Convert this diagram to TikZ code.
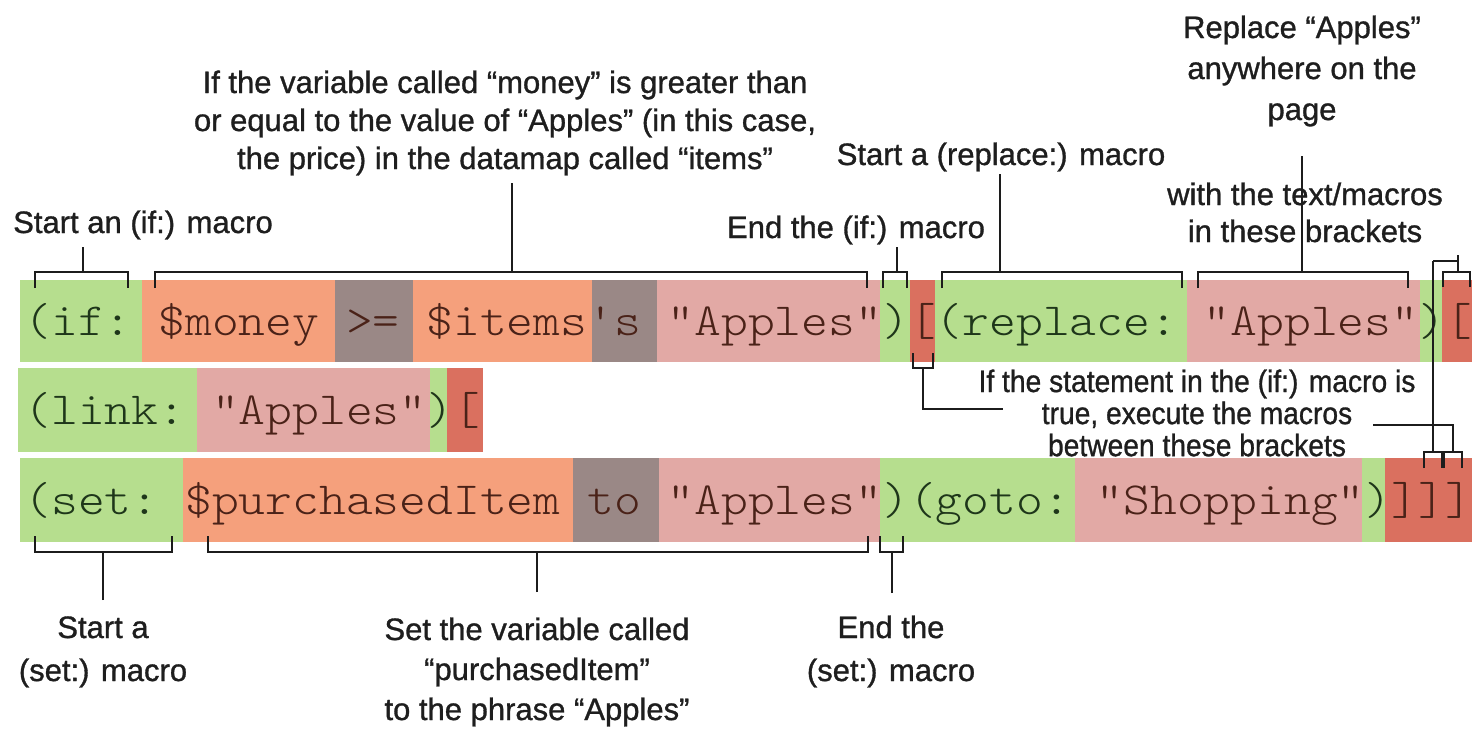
\documentclass[tikz,border=0pt]{standalone}
\usepackage{fontspec}
\usepackage{graphicx}
\usetikzlibrary{fit}
\newfontfamily\labfont{Liberation Sans}[FakeBold=1]
\definecolor{cgreen}{HTML}{B6DE8E}
\definecolor{corange}{HTML}{F5A07C}
\definecolor{cgray}{HTML}{9A8886}
\definecolor{cpink}{HTML}{E2A9A5}
\definecolor{cred}{HTML}{DA705F}
\definecolor{tgreen}{HTML}{1E361A}
\definecolor{tbrown}{HTML}{4A2218}
\definecolor{labcol}{HTML}{1E1E1E}
\definecolor{linecol}{HTML}{1C1C1C}
\newcommand\lbl[3]{\fontsize{15.5}{#2}\selectfont\scalebox{#1}[1]{\begin{tabular}[t]{@{}c@{}}#3\end{tabular}}}
\newcommand\codeline[1]{\scalebox{1.11}[1]{\ttfamily\fontseries{l}\fontsize{23}{23}\selectfont\frenchspacing #1}}
\newcommand\cG[1]{\textcolor{tgreen}{#1}}
\newcommand\cB[1]{\textcolor{tbrown}{#1}}
\tikzset{
  blk/.style={draw=none, inner sep=0pt, outer sep=0pt},
  codetxt/.style={inner sep=0pt, anchor=base west},
  lab/.style={inner sep=0pt, anchor=base, text=labcol, font=\labfont},
  conn/.style={draw=linecol, line width=1pt}
}
\newcommand\brk[5]{%
  \coordinate (#1l) at (#2,#4);
  \coordinate (#1r) at (#3,#4);
  \draw[conn] ([shift={(0,#5)}]#1l) -- (#1l) -- (#1r) -- ([shift={(0,#5)}]#1r);}
\begin{document}
\begin{tikzpicture}[x=0.5pt,y=-0.5pt]
\useasboundingbox (0,0) rectangle (1472,735);
\fill[white] (0,0) rectangle (1472,735);
% ---- row 1 blocks
\node[blk, fill=cgreen,  fit={(20,280) (142,362)}]  (r1a) {};
\node[blk, fill=corange, fit={(142,280) (335,362)}] (r1b) {};
\node[blk, fill=cgray,   fit={(335,280) (413,362)}] (r1c) {};
\node[blk, fill=corange, fit={(413,280) (592,362)}] (r1d) {};
\node[blk, fill=cgray,   fit={(592,280) (657,362)}] (r1e) {};
\node[blk, fill=cpink,   fit={(657,280) (880,362)}] (r1f) {};
\node[blk, fill=cgreen,  fit={(880,280) (910,362)}] (r1g) {};
\node[blk, fill=cred,    fit={(910,280) (935,362)}] (r1h) {};
\node[blk, fill=cgreen,  fit={(935,280) (1187,362)}] (r1i) {};
\node[blk, fill=cpink,   fit={(1187,280) (1420,362)}] (r1j) {};
\node[blk, fill=cgreen,  fit={(1420,280) (1442,362)}] (r1k) {};
\node[blk, fill=cred,    fit={(1442,280) (1472,362)}] (r1l) {};
% ---- row 2 blocks
\node[blk, fill=cgreen,  fit={(18,368) (197,452)}]  (r2a) {};
\node[blk, fill=cpink,   fit={(197,368) (430,452)}] (r2b) {};
\node[blk, fill=cgreen,  fit={(430,368) (447,452)}] (r2c) {};
\node[blk, fill=cred,    fit={(447,368) (483,452)}] (r2d) {};
% ---- row 3 blocks
\node[blk, fill=cgreen,  fit={(20,458) (183,542)}]  (r3a) {};
\node[blk, fill=corange, fit={(183,458) (573,542)}] (r3b) {};
\node[blk, fill=cgray,   fit={(573,458) (659,542)}] (r3c) {};
\node[blk, fill=cpink,   fit={(659,458) (880,542)}] (r3d) {};
\node[blk, fill=cgreen,  fit={(880,458) (908,542)}] (r3e) {};
\node[blk, fill=cgreen,  fit={(908,458) (1075,542)}] (r3f) {};
\node[blk, fill=cpink,   fit={(1075,458) (1362,542)}] (r3g) {};
\node[blk, fill=cgreen,  fit={(1362,458) (1385,542)}] (r3h) {};
\node[blk, fill=cred,    fit={(1385,458) (1472,542)}] (r3i) {};
% ---- code text
\node[codetxt] (t1) at (24,335) {\codeline{\cG{(if:} \cB{\$money} \cB{>=} \cB{\$items's} \cB{"Apples"}\cG{)}\cB{[}\cG{(replace:} \cB{"Apples"}\cG{)}\cB{[}}};
\node[codetxt] (t2) at (24,424) {\codeline{\cG{(link:} \cB{"Apples"}\cG{)}\cB{[}}};
\node[codetxt] (t3) at (24,514) {\codeline{\cG{(set:} \cB{\$purchasedItem} \cB{to} \cB{"Apples"}\cG{)(goto:} \cB{"Shopping"}\cG{)}\cB{]]]}}};
% ---- labels
\node[lab] (Lifs)  at (143,233)  {\lbl{1}{19}{Start an (if:) macro}};
\node[lab] (Lcond) at (505,93)   {\lbl{1}{19}{If the variable called “money” is greater than\\or equal to the value of “Apples” (in this case,\\the price) in the datamap called “items”}};
\node[lab] (Life)  at (856,238)  {\lbl{1}{19}{End the (if:) macro}};
\node[lab] (Lreps) at (1001,165) {\lbl{1}{19}{Start a (replace:) macro}};
\node[lab] (Lrep)  at (1302,38)  {\lbl{1}{20.5}{Replace “Apples”\\anywhere on the\\page}};
\node[lab] (Lwith) at (1305,205) {\lbl{1}{18.5}{with the text/macros\\in these brackets}};
\node[lab] (Lstmt) at (1197,392) {\lbl{0.91}{16}{If the statement in the (if:) macro is\\true, execute the macros\\between these brackets}};
\node[lab] (Lsets) at (103,638)  {\lbl{1}{21.5}{Start a\\(set:) macro}};
\node[lab] (Lsetv) at (537,640)  {\lbl{1}{20}{Set the variable called\\“purchasedItem”\\to the phrase “Apples”}};
\node[lab] (Lsete) at (891,638)  {\lbl{1}{21.5}{End the\\(set:) macro}};
% ---- brackets above row 1
\brk{b1}{35}{128}{272}{16}
\coordinate (s1) at (83,247);   \draw[conn] (s1) -- (s1 |- b1l);
\brk{b2}{155}{867}{272}{16}
\coordinate (s2) at (512,183);  \draw[conn] (s2) -- (s2 |- b2l);
\brk{b3}{883}{907}{272}{16}
\coordinate (s3) at (897,247);  \draw[conn] (s3) -- (s3 |- b3l);
\brk{b4}{942}{1182}{272}{16}
\coordinate (s4) at (1000,174); \draw[conn] (s4) -- (s4 |- b4l);
\brk{b5}{1198}{1408}{272}{16}
\coordinate (s5) at (1302,156); \draw[conn] (s5) -- (s5 |- b5l);
\brk{b6}{1443}{1470}{272}{15}
\coordinate (s6a) at (1458,255); \draw[conn] (s6a) -- (s6a |- b6l);
\coordinate (s6b) at (1433,261); \draw[conn] (s6b) -- (s6b -| s6a);
% ---- closing brackets above row 3
\brk{c1}{1424}{1442}{452}{16}
\draw[conn] (s6b) -- (s6b |- c1l);
\brk{c2}{1444}{1462}{452}{16}
\coordinate (s7) at (1373,425); \coordinate (s7b) at (1453,425);
\draw[conn] (s7) -- (s7b) -- (s7b |- c2l);
% ---- bracket below the (if:) hook
\brk{d}{913}{933}{368}{-15}
\coordinate (dm) at (923,368); \coordinate (s8) at (1003,409);
\draw[conn] (dm) |- (s8);
% ---- brackets below row 3
\brk{e1}{35}{172}{552}{-16}
\coordinate (s9) at (103,600);  \draw[conn] (s9) -- (s9 |- e1l);
\brk{e2}{208}{868}{552}{-16}
\coordinate (s10) at (537,592); \draw[conn] (s10) -- (s10 |- e2l);
\brk{e3}{880}{903}{552}{-16}
\coordinate (s11) at (892,593); \draw[conn] (s11) -- (s11 |- e3l);
\end{tikzpicture}
\end{document}
